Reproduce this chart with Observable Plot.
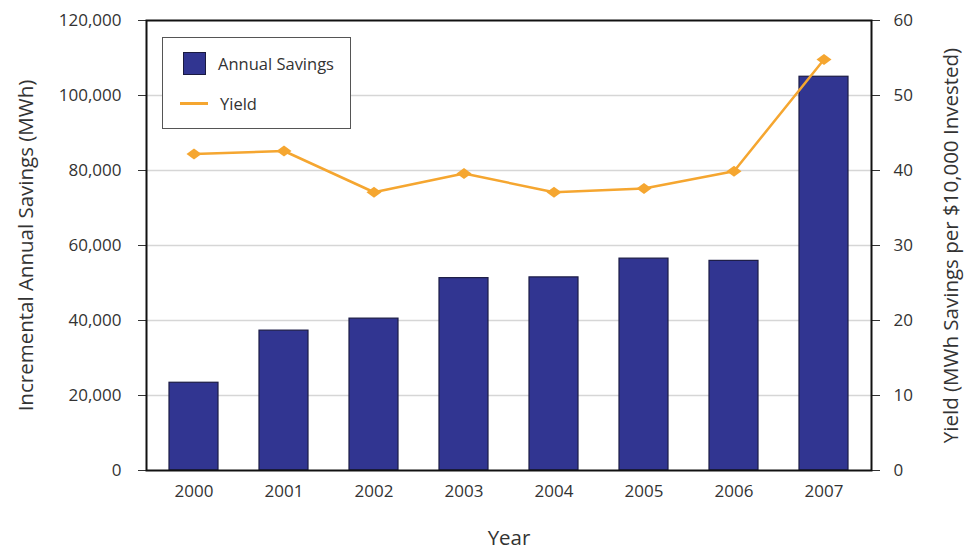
<!DOCTYPE html>
<html>
<head>
<meta charset="utf-8">
<script src="https://cdn.jsdelivr.net/npm/d3@7"></script>
<script src="https://cdn.jsdelivr.net/npm/@observablehq/plot@0.6"></script>
<style>
  html, body { margin: 0; padding: 0; background: #fff; }
  #wrap { position: relative; width: 969px; height: 552px; font-family: "Open Sans", sans-serif; }
  #legend { position: absolute; left: 162px; top: 37px; width: 187px; height: 90px; border: 1.5px solid #555; background: #fff; box-sizing: content-box; }
  .item { position: absolute; left: 0; display: flex; align-items: center; font-size: 16.5px; color: #333; }
  .sw { width: 21px; height: 21px; background: #313591; border: 1px solid #1a1a40; margin-left: 20px; margin-right: 12px; }
  .ln { width: 28px; height: 3px; background: #f5a630; margin-left: 17px; margin-right: 12px; }
</style>
</head>
<body>
<div id="wrap"></div>
<script>
const years = ["2000","2001","2002","2003","2004","2005","2006","2007"];
const savings = [23400, 37300, 40500, 51300, 51500, 56500, 55900, 105000];
const yieldVals = [42.2, 42.6, 37.1, 39.6, 37.1, 37.6, 39.9, 54.8];
const leftTicks = [0, 20000, 40000, 60000, 80000, 100000, 120000];
const rightTicks = [0, 10, 20, 30, 40, 50, 60];
const ratio = 120000 / 60;

const rows = years.map((y, i) => ({year: y, savings: savings[i], yld: yieldVals[i]}));

const flatDiamond = {
  draw(context, size) {
    const w = 7.5, h = 5.5;
    context.moveTo(-w, 0);
    context.lineTo(0, -h);
    context.lineTo(w, 0);
    context.lineTo(0, h);
    context.closePath();
  }
};

const chart = Plot.plot({
  width: 969,
  height: 552,
  marginLeft: 146,
  marginRight: 98,
  marginTop: 20,
  marginBottom: 82,
  style: {fontFamily: "Open Sans, sans-serif", fontSize: "17px", color: "#333", background: "#fff"},
  x: {type: "band", domain: years, paddingInner: 0.46, paddingOuter: 0.23},
  y: {domain: [0, 120000]},
  marks: [
    Plot.ruleY(leftTicks.slice(1, -1), {stroke: "#d6d6d6", strokeWidth: 1.5}),
    Plot.barY(rows, {x: "year", y: "savings", fill: "#313591", stroke: "#1c1c45", strokeWidth: 1.2}),
    Plot.line(rows, {x: "year", y: d => d.yld * ratio, stroke: "#f5a630", strokeWidth: 2.5}),
    Plot.dot(rows, {x: "year", y: d => d.yld * ratio, symbol: flatDiamond, r: 6, fill: "#f5a630", stroke: "none"}),
    Plot.axisY({anchor: "left", ticks: leftTicks, tickFormat: d3.format(","), tickSize: 8, tickPadding: 17, fontSize: 17,
      label: "Incremental Annual Savings (MWh)", labelAnchor: "center", labelArrow: "none", labelOffset: 128}),
    Plot.axisY({anchor: "right", ticks: leftTicks, tickFormat: d => d / ratio, tickSize: 8, tickPadding: 14, fontSize: 17,
      label: "Yield (MWh Savings per $10,000 Invested)", labelAnchor: "center", labelArrow: "none", labelOffset: 86}),
    Plot.axisX({tickSize: 0, tickPadding: 14, fontSize: 17, label: "Year", labelAnchor: "center", labelArrow: "none", labelOffset: 74}),
    Plot.frame({stroke: "#111", strokeWidth: 2})
  ]
});
chart.querySelectorAll("[aria-label='y-axis label'] text, [aria-label='x-axis label'] text").forEach(t => t.style.fontSize = "20.5px");
document.getElementById("wrap").appendChild(chart);

const legend = document.createElement("div");
legend.id = "legend";
legend.innerHTML = `
  <div class="item" style="top:14px"><div class="sw"></div><span>Annual Savings</span></div>
  <div class="item" style="top:54px"><div class="ln"></div><span>Yield</span></div>`;
document.getElementById("wrap").appendChild(legend);
</script>
</body>
</html>
